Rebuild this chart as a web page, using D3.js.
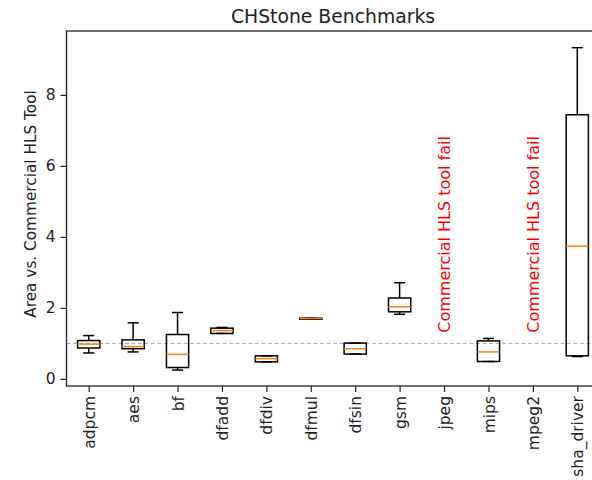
<!DOCTYPE html>
<html>
<head>
<meta charset="utf-8">
<script src="https://cdn.jsdelivr.net/npm/d3@7"></script>
<style>
  body { margin: 0; background: #fff; }
  svg { display: block; font-family: "DejaVu Sans", sans-serif; }
</style>
</head>
<body>
<div id="chart"></div>
<script>
// benchmark names and box stats (null = commercial tool failed)
const benchmarks = ["adpcm", "aes", "bf", "dfadd", "dfdiv", "dfmul", "dfsin", "gsm", "jpeg", "mips", "mpeg2", "sha_driver"];
const whiskerLow  = [0.73, 0.76, 0.25, 1.28, 0.48, 1.68, 0.70, 1.82, null, 0.49, null, 0.63];
const q1          = [0.87, 0.85, 0.32, 1.28, 0.48, 1.68, 0.70, 1.89, null, 0.49, null, 0.65];
const medians     = [0.98, 0.91, 0.69, 1.36, 0.57, 1.70, 0.85, 2.03, null, 0.76, null, 3.74];
const q3          = [1.08, 1.10, 1.25, 1.43, 0.65, 1.71, 1.01, 2.28, null, 1.07, null, 7.44];
const whiskerHigh = [1.22, 1.58, 1.87, 1.45, 0.65, 1.71, 1.01, 2.71, null, 1.14, null, 9.33];
const yTicks = [0, 2, 4, 6, 8];
const failText = "Commercial HLS tool fail";
const failY = 1.3;

const margin = {top: 31, right: -7.5, bottom: 94, left: 66.5},
    W = 592, H = 480,
    width = W - margin.left - margin.right,
    height = H - margin.top - margin.bottom;

const svg = d3.select("#chart")
  .append("svg")
    .attr("width", W)
    .attr("height", H);

const g = svg.append("g")
    .attr("transform", `translate(${margin.left},${margin.top})`);

const x = d3.scaleLinear()
  .domain([0.5, benchmarks.length + 0.5])
  .range([0, width]);

const y = d3.scaleLinear()
  .domain([-0.2, 9.8])
  .range([height, 0]);

// reference line at 1
g.append("line")
  .attr("x1", 0).attr("x2", width)
  .attr("y1", y(1)).attr("y2", y(1))
  .attr("stroke", "#a8a8a8")
  .attr("stroke-width", 1)
  .attr("stroke-dasharray", "4,2.5");

// boxes
const boxW = x(1.25) - x(1);   // half of 0.5 width
const capW = x(1.125) - x(1);
const lw = 1.5;

benchmarks.forEach(function(name, i) {
  const cx = x(i + 1);
  if (medians[i] === null) {
    g.append("text")
      .attr("transform", `translate(${cx},${y(failY)}) rotate(-90)`)
      .attr("dy", "0.36em")
      .attr("fill", "#ff0000")
      .style("font-size", "16px")
      .text(failText);
    return;
  }
  const bg = g.append("g").attr("stroke", "#000").attr("stroke-width", lw).attr("fill", "none");
  // whiskers
  bg.append("line").attr("x1", cx).attr("x2", cx).attr("y1", y(q3[i])).attr("y2", y(whiskerHigh[i]));
  bg.append("line").attr("x1", cx).attr("x2", cx).attr("y1", y(q1[i])).attr("y2", y(whiskerLow[i]));
  // caps
  bg.append("line").attr("x1", cx - capW).attr("x2", cx + capW).attr("y1", y(whiskerHigh[i])).attr("y2", y(whiskerHigh[i]));
  bg.append("line").attr("x1", cx - capW).attr("x2", cx + capW).attr("y1", y(whiskerLow[i])).attr("y2", y(whiskerLow[i]));
  // box
  bg.append("rect")
    .attr("x", cx - boxW)
    .attr("y", y(q3[i]))
    .attr("width", boxW * 2)
    .attr("height", Math.max(0, y(q1[i]) - y(q3[i])));
  // median
  g.append("line")
    .attr("x1", cx - boxW).attr("x2", cx + boxW)
    .attr("y1", y(medians[i])).attr("y2", y(medians[i]))
    .attr("stroke", "#ff7f0e")
    .attr("stroke-width", lw);
});

// axes
const xAxis = g.append("g")
  .attr("transform", `translate(0,${height})`)
  .call(d3.axisBottom(x).tickValues(d3.range(1, benchmarks.length + 1))
        .tickFormat(function(d) { return benchmarks[d - 1]; })
        .tickSize(6).tickPadding(4));
xAxis.selectAll("text")
  .attr("transform", "rotate(-90)")
  .attr("x", -10)
  .attr("y", 0)
  .attr("dy", "0.36em")
  .style("text-anchor", "end");

const yAxis = g.append("g")
  .call(d3.axisLeft(y).tickValues(yTicks).tickSize(6).tickPadding(5));

[xAxis, yAxis].forEach(function(a) {
  a.select(".domain").remove();
  a.selectAll("line").attr("stroke", "#222").attr("stroke-width", 1.2);
  a.selectAll("text").attr("fill", "#222").style("font-size", "15.5px")
    .style("font-family", "DejaVu Sans");
});

// frame
g.append("rect")
  .attr("width", width).attr("height", height)
  .attr("fill", "none")
  .attr("stroke", "#222")
  .attr("stroke-width", 1.3);

// labels
svg.append("text")
  .attr("x", margin.left + width / 2)
  .attr("y", 22.5)
  .style("text-anchor", "middle")
  .style("font-size", "18.8px")
  .attr("fill", "#222")
  .text("CHStone Benchmarks");

svg.append("text")
  .attr("transform", `translate(30.5,${204}) rotate(-90)`)
  .attr("dy", "0.36em")
  .style("text-anchor", "middle")
  .style("font-size", "15.3px")
  .attr("fill", "#222")
  .text("Area vs. Commercial HLS Tool");
</script>
</body>
</html>
